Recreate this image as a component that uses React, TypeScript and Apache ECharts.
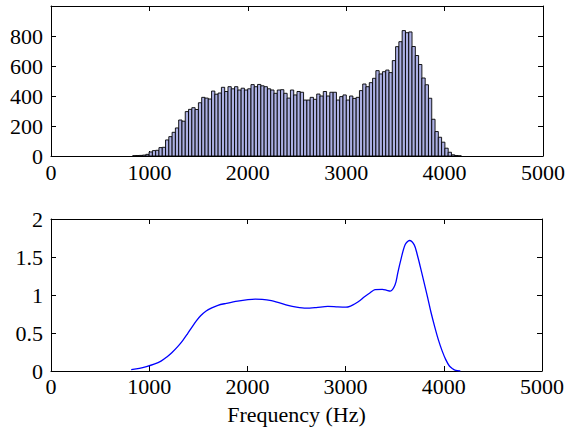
import React, { useEffect, useRef } from "react";
import * as echarts from "echarts";

// Histogram: 100 bins starting at 830 Hz, width 33.4 Hz
const BIN_START = 830;
const BIN_WIDTH = 33.4;
const binCounts = [
  2, 3, 4, 6, 11, 27, 36, 38, 56, 58,
  107, 129, 158, 187, 240, 232, 296, 311, 322, 310,
  355, 391, 386, 380, 433, 412, 420, 458, 430, 462,
  448, 462, 440, 452, 440, 448, 476, 462, 477, 468,
  462, 448, 440, 418, 440, 442, 418, 386, 440, 407,
  430, 425, 373, 373, 391, 378, 413, 400, 430, 400,
  425, 425, 373, 396, 407, 373, 400, 384, 391, 436,
  480, 462, 489, 518, 569, 547, 562, 573, 556, 636,
  729, 762, 836, 822, 827, 730, 670, 610, 520, 475,
  385, 245, 163, 125, 92, 52, 25, 8, 3, 1,
];

// Density curve
const lineHz = [
  817, 900, 972, 1050, 1120, 1180, 1230, 1290, 1341, 1390, 1434, 1480, 1526, 1580,
  1637, 1700, 1785, 1900, 2006, 2080, 2150, 2228, 2320, 2413, 2500, 2598, 2700,
  2819, 2920, 3004, 3050, 3096, 3150, 3189, 3250, 3300, 3374, 3420, 3455, 3503,
  3530, 3558, 3606, 3651, 3699, 3730, 3761, 3800, 3835, 3870, 3909, 3945, 3983,
  4020, 4057, 4090, 4113, 4168,
];
const lineDensity = [
  0.018, 0.035, 0.058, 0.09, 0.13, 0.185, 0.24, 0.32, 0.4, 0.49, 0.575, 0.66, 0.73, 0.79,
  0.83, 0.865, 0.89, 0.92, 0.94, 0.947, 0.942, 0.93, 0.9, 0.863, 0.84, 0.827, 0.835,
  0.85, 0.843, 0.84, 0.855, 0.885, 0.93, 0.973, 1.03, 1.07, 1.075, 1.06, 1.05, 1.13,
  1.28, 1.44, 1.66, 1.717, 1.66, 1.53, 1.37, 1.16, 0.97, 0.77, 0.575, 0.41, 0.265,
  0.15, 0.066, 0.03, 0.013, 0.0,
];

const xTicksMax = 5000;
const topYMax = 1000;
const bottomYMax = 2;

const FONT = "'Liberation Serif', 'Times New Roman', serif";
const FS = 22;

export default function App() {
  const ref = useRef<HTMLDivElement>(null);
  useEffect(() => {
    if (!ref.current) return;
    const chart = echarts.init(ref.current, undefined, { renderer: "svg" });

    const histData = binCounts.map((c, i) => [
      BIN_START + i * BIN_WIDTH,
      BIN_START + (i + 1) * BIN_WIDTH,
      c,
    ]);
    const lineData = lineHz.map((h, i) => [h, lineDensity[i]]);

    const axisLine = { show: true, onZero: false, lineStyle: { color: "#000", width: 1 } };
    const tickIn = { show: true, inside: true, length: 5, lineStyle: { color: "#000", width: 1 } };
    const lbl = { color: "#000", fontFamily: FONT, fontSize: FS };

    const xBase = (gridIndex: number, pos: "bottom" | "top", margin: number, extra: any = {}) => ({
      type: "value",
      gridIndex,
      position: pos,
      min: 0,
      max: xTicksMax,
      interval: 1000,
      axisLine,
      axisTick: tickIn,
      splitLine: { show: false },
      axisLabel:
        pos === "bottom"
          ? { ...lbl, margin, formatter: (v: number) => String(v) }
          : { show: false },
      ...extra,
    });

    const yBase = (gridIndex: number, pos: "left" | "right", max: number, interval: number, fmt?: any) => ({
      type: "value",
      gridIndex,
      position: pos,
      min: 0,
      max,
      interval,
      axisLine,
      axisTick: tickIn,
      splitLine: { show: false },
      axisLabel: pos === "left" ? { ...lbl, margin: 8, formatter: fmt } : { show: false },
    });

    chart.setOption({
      animation: false,
      backgroundColor: "#fff",
      grid: [
        { left: 51, top: 6, width: 492, height: 150 },
        { left: 51, top: 219, width: 491, height: 152 },
      ],
      xAxis: [
        xBase(0, "bottom", 5),
        xBase(0, "top", 0),
        xBase(1, "bottom", 4, {
          name: "Frequency (Hz)",
          nameLocation: "middle",
          nameGap: 32,
          nameTextStyle: { color: "#000", fontFamily: FONT, fontSize: FS },
        }),
        xBase(1, "top", 0),
      ],
      yAxis: [
        yBase(0, "left", topYMax, 200, (v: number) => (v === topYMax ? "" : String(v))),
        yBase(0, "right", topYMax, 200),
        yBase(1, "left", bottomYMax, 0.5, (v: number) => String(v)),
        yBase(1, "right", bottomYMax, 0.5),
      ],
      series: [
        {
          type: "custom",
          xAxisIndex: 0,
          yAxisIndex: 0,
          data: histData,
          renderItem: (params: any, api: any) => {
            const p0 = api.coord([api.value(0), api.value(2)]);
            const p1 = api.coord([api.value(1), 0]);
            return {
              type: "rect",
              shape: { x: p0[0], y: p0[1], width: p1[0] - p0[0], height: p1[1] - p0[1] },
              style: { fill: "#acb0e4", stroke: "#000", lineWidth: 0.9 },
            };
          },
        },
        {
          type: "line",
          xAxisIndex: 2,
          yAxisIndex: 2,
          data: lineData,
          smooth: 0.3,
          showSymbol: false,
          symbol: "none",
          lineStyle: { color: "#0000ff", width: 1.3 },
        },
      ],
    });
    return () => chart.dispose();
  }, []);
  return (
    <div
      ref={ref}
      style={{ position: "fixed", left: 0, top: 0, width: 570, height: 435, background: "#fff" }}
    />
  );
}
